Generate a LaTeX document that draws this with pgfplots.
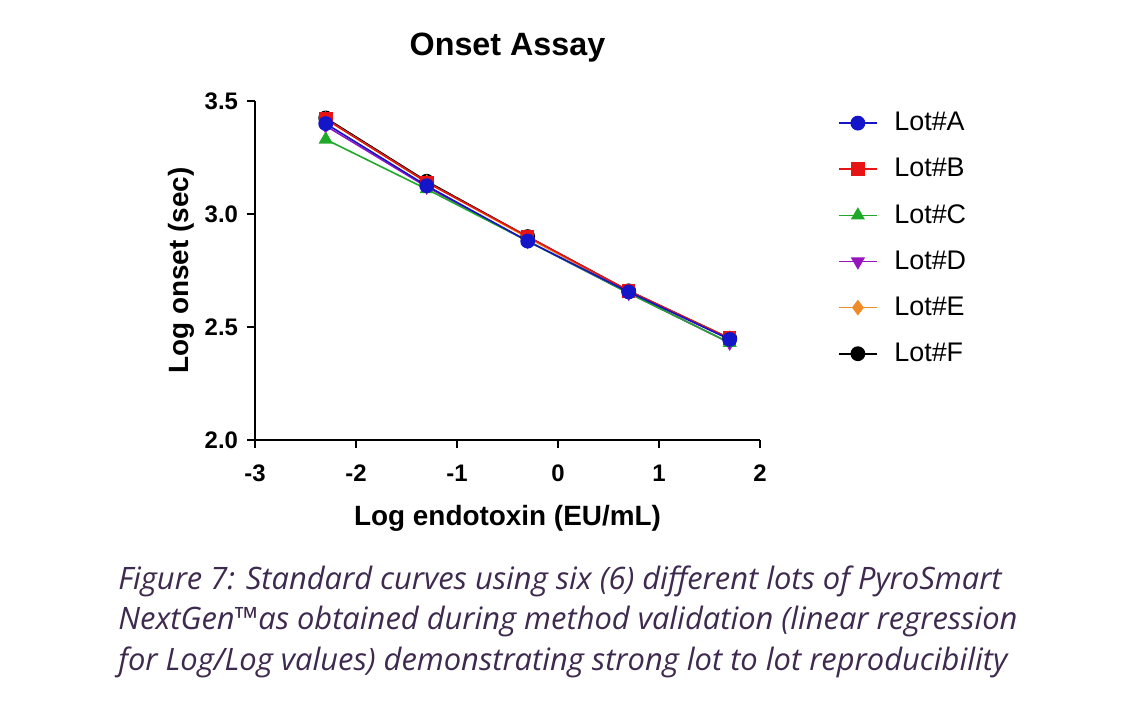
\documentclass[border=0pt]{standalone}
\usepackage{pgfplots}
\pgfplotsset{compat=1.18}
\usepackage{fontspec}
\setmainfont{Liberation Sans}
\newfontfamily\capfont{Open Sans}
\definecolor{cA}{RGB}{20,20,200}
\definecolor{cB}{RGB}{230,20,20}
\definecolor{cC}{RGB}{30,170,40}
\definecolor{cD}{RGB}{150,20,190}
\definecolor{cE}{RGB}{240,140,40}
\definecolor{cF}{RGB}{0,0,0}
\definecolor{capcol}{RGB}{62,42,78}
\begin{document}
\begin{tikzpicture}
\useasboundingbox (0,0) rectangle (572bp,358bp);
\begin{axis}[
  at={(127.5bp,138bp)}, anchor=south west,
  width=252.5bp, height=169.5bp, scale only axis,
  xmin=-3, xmax=2, ymin=2.0, ymax=3.5,
  xtick={-3,-2,-1,0,1,2}, ytick={2.0,2.5,3.0,3.5},
  yticklabel style={/pgf/number format/fixed, /pgf/number format/fixed zerofill, /pgf/number format/precision=1, xshift=-1bp},
  axis x line*=bottom, axis y line*=left,
  axis line style={line width=1.1bp, -},
  tick style={line width=1.1bp, black},
  tick align=outside, major tick length=4bp,
  /pgf/number format/assume math mode=true,
  ticklabel style={font=\fontsize{12}{14}\selectfont\bfseries},
  xticklabel style={yshift=-5bp},
  xlabel={Log endotoxin (EU/mL)}, ylabel={Log onset (sec)},
  label style={font=\fontsize{14}{16}\selectfont\bfseries},
  xlabel style={yshift=-5bp},
  ylabel style={yshift=-1.5bp},
  title={Onset Assay},
  title style={font=\fontsize{16.2}{19}\selectfont\bfseries, at={(0.5,1)}, anchor=center, yshift=20.5bp},
  legend style={draw=none, fill=none, at={(1,1)}, anchor=north west, xshift=36bp, yshift=-1.5bp,
    font=\fontsize{13.5}{15}\selectfont, row sep=8.3bp, column sep=6.5bp, cells={anchor=west}},
  legend image code/.code={\draw[mark repeat=2,mark phase=2,#1] plot coordinates {(0cm,0cm) (0.33cm,0cm) (0.66cm,0cm)};},
  reverse legend,
  every axis plot/.append style={line width=0.8bp, mark size=3.3bp},
]
\addplot[cF, mark=*, mark options={fill=cF}] coordinates {(-2.3,3.425) (-1.3,3.145) (-0.3,2.90) (0.7,2.66) (1.7,2.45)};
\addlegendentry{Lot\#F}
\addplot[cE, mark=diamond*, mark options={fill=cE}, mark size=3.3bp] coordinates {(-2.3,3.42) (-1.3,3.14) (-0.3,2.895) (0.7,2.655) (1.7,2.45)};
\addlegendentry{Lot\#E}
\addplot[cD, mark=triangle*, mark options={fill=cD, rotate=180}] coordinates {(-2.3,3.39) (-1.3,3.12) (-0.3,2.88) (0.7,2.65) (1.7,2.43)};
\addlegendentry{Lot\#D}
\addplot[cC, mark=triangle*, mark options={fill=cC}] coordinates {(-2.3,3.33) (-1.3,3.11) (-0.3,2.88) (0.7,2.65) (1.7,2.43)};
\addlegendentry{Lot\#C}
\addplot[cB, mark=square*, mark options={fill=cB}, mark size=3bp] coordinates {(-2.3,3.42) (-1.3,3.14) (-0.3,2.90) (0.7,2.66) (1.7,2.45)};
\addlegendentry{Lot\#B}
\addplot[cA, mark=*, mark options={fill=cA}] coordinates {(-2.3,3.40) (-1.3,3.125) (-0.3,2.88) (0.7,2.655) (1.7,2.445)};
\addlegendentry{Lot\#A}
\draw[line width=1.1bp] (rel axis cs:0,0) -- ++(0,-5bp);
\end{axis}
\begin{scope}[every node/.style={anchor=base west, inner sep=0pt, text=capcol, font=\capfont\itshape\fontsize{15.5}{18}\selectfont}]
\node at (59bp,63bp) {Figure 7: Standard curves using six (6) different lots of PyroSmart};
\node at (59bp,43bp) {NextGen\texttrademark as obtained during method validation (linear regression};
\node at (59bp,23bp) {for Log/Log values) demonstrating strong lot to lot reproducibility};
\end{scope}
\end{tikzpicture}
\end{document}
